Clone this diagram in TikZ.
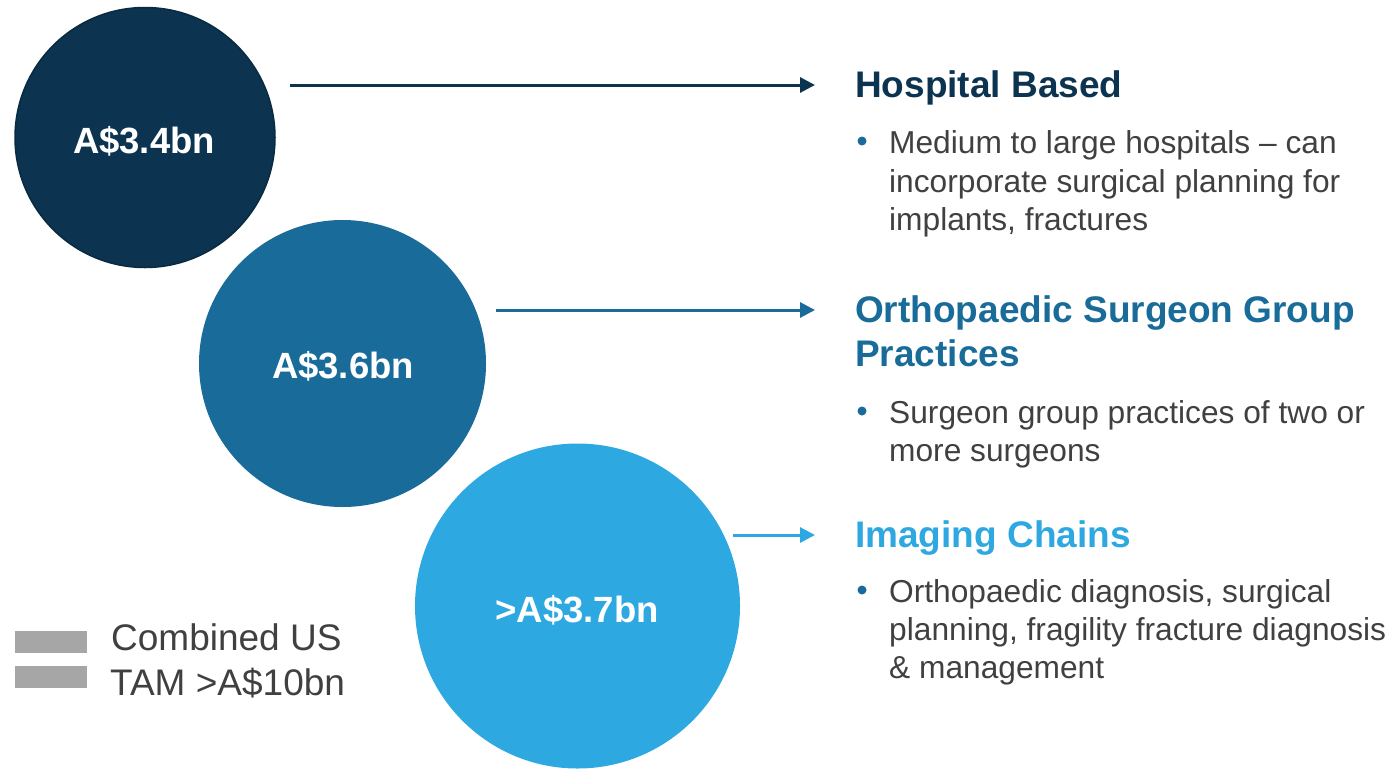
\documentclass[tikz,border=0pt]{standalone}
\usepackage{fontspec}
\setmainfont{Liberation Sans}
\usetikzlibrary{arrows.meta}
\definecolor{navy}{HTML}{0C3350}
\definecolor{navyedge}{HTML}{0A2A40}
\definecolor{midblue}{HTML}{196B99}
\definecolor{lightblue}{HTML}{2EA8E0}
\definecolor{bodygray}{HTML}{404040}
\definecolor{legendgray}{HTML}{A6A6A6}
\definecolor{bulletblue}{HTML}{1A6B9A}
\begin{document}
\begin{tikzpicture}[x=1pt,y=-1pt,
  bubble/.style={circle,inner sep=0pt,minimum size=#1},
  amount/.style={anchor=base,inner sep=0pt,text=white,font=\fontsize{36.5}{43}\selectfont\bfseries},
  heading/.style={anchor=base west,inner sep=0pt,font=\fontsize{37}{44}\selectfont\bfseries},
  body/.style={anchor=base west,inner sep=0pt,text=bodygray,font=\fontsize{31.7}{39}\selectfont},
  bulletdot/.style={circle,fill=bulletblue,inner sep=0pt,minimum size=9pt},
  link/.style={line width=3pt,-{Triangle[length=15pt,width=15pt]}},
  legendbar/.style={fill=legendgray,draw=none},
  legendtext/.style={anchor=base west,inner sep=0pt,text=bodygray,font=\fontsize{37}{44}\selectfont}]

\useasboundingbox (0,0) rectangle (1394,769);

% circles
\node[bubble=260pt,fill=navy,draw=navyedge,line width=1.5pt] (c1) at (145,137.5) {};
\node[bubble=287pt,fill=midblue] (c2) at (342.5,363.5) {};
\node[bubble=325pt,fill=lightblue] (c3) at (577.5,606) {};

\node[amount] (t1) at (144,153) {A\$3.4bn};
\node[amount] (t2) at (343,378) {A\$3.6bn};
\node[amount] (t3) at (577,622) {>A\$3.7bn};

% arrows
\coordinate (a1s) at (290,85);  \coordinate (a1e) at (815,85);
\coordinate (a2s) at (496,310); \coordinate (a2e) at (815,310);
\coordinate (a3s) at (733,535); \coordinate (a3e) at (815,535);
\draw[link,navy] (a1s) -- (a1e);
\draw[link,midblue] (a2s) -- (a2e);
\draw[link,lightblue] (a3s) -- (a3e);

% headings
\node[heading,text=navy] (h1) at (855,97) {Hospital Based};
\node[heading,text=midblue] (h2a) at (855,322) {Orthopaedic Surgeon Group};
\node[heading,text=midblue] (h2b) at (855,366) {Practices};
\node[heading,text=lightblue] (h3) at (855,547) {Imaging Chains};

% bullets
\node[bulletdot] (b1) at (862,141) {};
\node[body] (l11) at (889,153) {Medium to large hospitals – can};
\node[body] (l12) at (889,192) {incorporate surgical planning for};
\node[body] (l13) at (889,230) {implants, fractures};

\node[bulletdot] (b2) at (862,411) {};
\node[body] (l21) at (889,423) {Surgeon group practices of two or};
\node[body] (l22) at (889,461) {more surgeons};

\node[bulletdot] (b3) at (862,590) {};
\node[body] (l31) at (889,602) {Orthopaedic diagnosis, surgical};
\node[body] (l32) at (889,640) {planning, fragility fracture diagnosis};
\node[body] (l33) at (889,678) {\& management};

% legend
\fill[legendbar] (15,631) rectangle (87,653);
\fill[legendbar] (15,666) rectangle (87,688);
\node[legendtext] (g1) at (111,650) {Combined US};
\node[legendtext] (g2) at (110,695) {TAM >A\$10bn};
\end{tikzpicture}
\end{document}
